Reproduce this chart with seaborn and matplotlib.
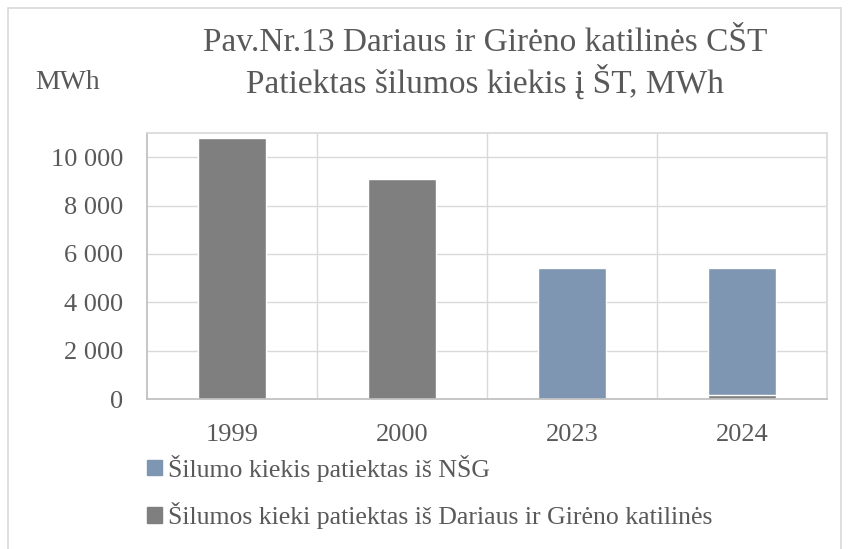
import numpy as np
import pandas as pd
import matplotlib
matplotlib.use("Agg")
import matplotlib.pyplot as plt
import seaborn as sns
from matplotlib.patches import Patch, Rectangle
from matplotlib.ticker import FuncFormatter

# duomenys
years = ["1999", "2000", "2023", "2024"]
nsg = [0, 0, 5400, 5250]            # Šilumos kiekis patiektas iš NŠG
katiline = [10800, 9100, 0, 150]    # Šilumos kieki patiektas iš Dariaus ir Girėno katilinės
labels = ["Šilumo kiekis patiektas iš NŠG",
          "Šilumos kieki patiektas iš Dariaus ir Girėno katilinės"]

blue = "#7f96b2"
grey = "#7f7f7f"
txt = "#595959"

sns.set_theme(style="white")
plt.rcParams["font.family"] = ["Liberation Serif", "DejaVu Serif"]

df = pd.DataFrame({"year": years, "nsg": nsg, "kat": katiline})
df["total"] = df["nsg"] + df["kat"]

fig = plt.figure(figsize=(8.49, 5.49), dpi=100)
ax = fig.add_axes([0.1731, 0.2732, 0.8009, 0.4845])

# sukrauti stulpeliai: visas kiekis (mėlyna), ant jo katilinės dalis (pilka)
sns.barplot(data=df, x="year", y="total", color=blue, width=0.4,
            saturation=1, ax=ax)
sns.barplot(data=df, x="year", y="kat", color=grey, width=0.4,
            saturation=1, ax=ax)

ax.set_ylim(0, 11000)
ax.set_xlim(-0.5, 3.5)
ax.set_yticks(range(0, 10001, 2000))
ax.yaxis.set_major_formatter(FuncFormatter(lambda v, p: f"{int(v):,}".replace(",", " ")))
ax.set_xlabel("")
ax.set_ylabel("")
ax.tick_params(axis="both", labelsize=19, colors=txt, length=0)
ax.tick_params(axis="y", pad=17)
ax.tick_params(axis="x", pad=18)

# tinklelis
for y in range(2000, 10001, 2000):
    ax.axhline(y, color="#d9d9d9", lw=1, zorder=0)
for x in [0.5, 1.5, 2.5]:
    ax.axvline(x, color="#d9d9d9", lw=1, zorder=0)
for s in ["top", "right"]:
    ax.spines[s].set_color("#d9d9d9")
for s in ["left", "bottom"]:
    ax.spines[s].set_color("#bfbfbf")

fig.text(0.571, 0.922, "Pav.Nr.13 Dariaus ir Girėno katilinės CŠT",
         ha="center", va="center", fontsize=24, color=txt)
fig.text(0.571, 0.850, "Patiektas šilumos kiekis į ŠT, MWh",
         ha="center", va="center", fontsize=24, color=txt)
fig.text(0.041, 0.850, "MWh", ha="left", va="center", fontsize=20, color=txt)

handles = [Patch(color=blue), Patch(color=grey)]
fig.legend(handles, labels, loc="upper left", bbox_to_anchor=(0.173, 0.172),
           frameon=False, fontsize=18.5, labelcolor=txt, handlelength=0.57,
           handleheight=0.57, handletextpad=0.25, labelspacing=0.8,
           borderpad=0, borderaxespad=0)

fig.patches.append(Rectangle((0.010, -0.05), 0.98, 1.035, transform=fig.transFigure,
                             fill=False, edgecolor="#d9d9d9", lw=1.2))

fig.savefig("out.png", dpi=100)
